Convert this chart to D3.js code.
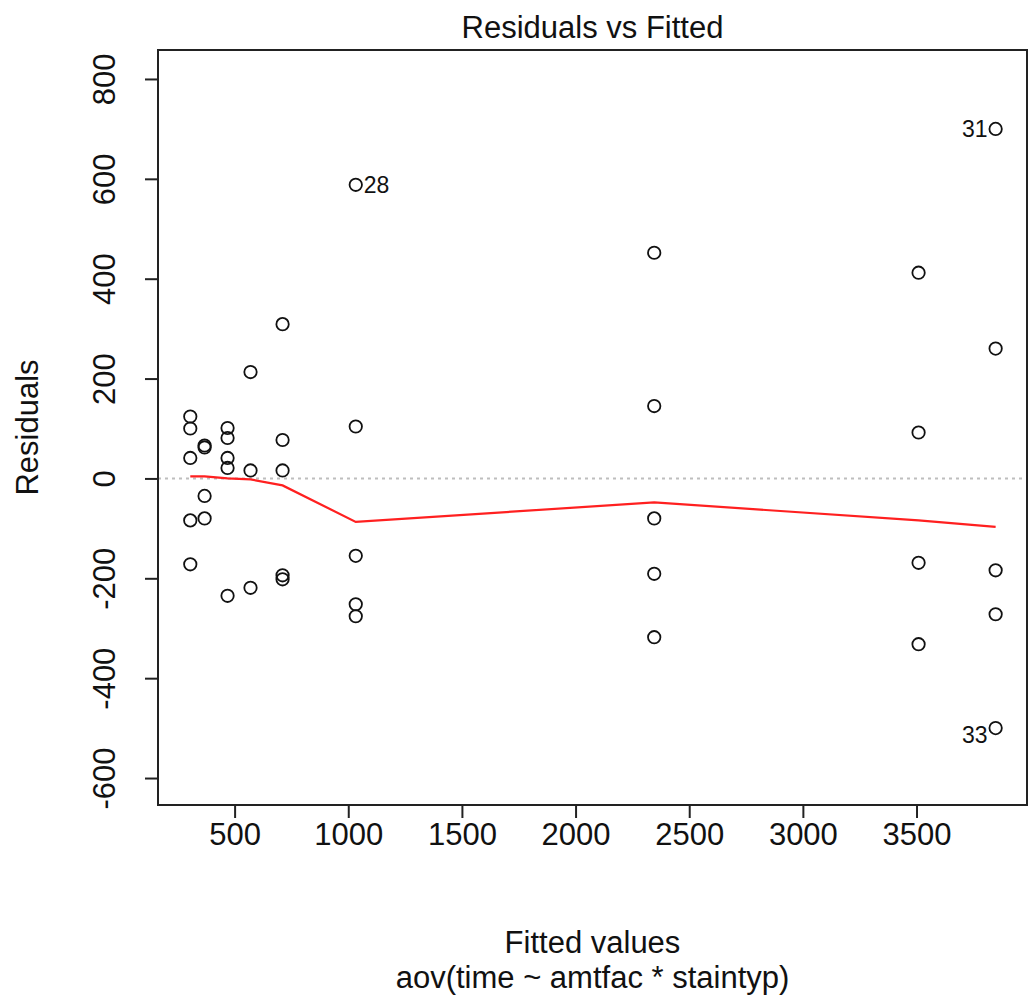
<!DOCTYPE html>
<html>
<head>
<meta charset="utf-8">
<script src="https://cdn.jsdelivr.net/npm/d3@7"></script>
<style>
  body { margin: 0; background: #fff; }
  svg { display: block; font-family: "Liberation Sans", Arial, sans-serif; }
</style>
</head>
<body>
<div class="vis"></div>
<script>
// fitted value of each cell, and the residuals read for it
var fittedValues = [305, 368, 469, 570, 711, 1033, 2346, 3509, 3848];
var residualGroups = [
    [124, 100, 41, -84, -172],
    [66, 62, -35, -80],
    [101, 81, 41, 21, -235],
    [213, 16, -219],
    [309, 77, 16, -194, -202],
    [588, 104, -155, -252, -276],
    [452, 145, -80, -191, -318],
    [412, 92, -169, -332],
    [700, 260, -184, -272, -500]
];
// red smoother, one vertex per fitted value
var smoothResiduals = [4, 4, 0, -2, -14, -87, -48, -84, -97];
// labelled observations: id, group index, residual
var labelIds = ["28", "31", "33"];
var labelGroups = [5, 8, 8];
var labelResiduals = [588, 700, -500];

var xTicks = [500, 1000, 1500, 2000, 2500, 3000, 3500];
var yTicks = [-600, -400, -200, 0, 200, 400, 600, 800];
var xDomain = [163, 3986];
var yDomain = [-654, 858];

(function () {
    const svgWidth = 1029;
    const svgHeight = 999;
    const fontSize = '31px';

    var margin = { top: 50, right: 2, bottom: 194, left: 158 };
    var innerWidth = svgWidth - margin.left - margin.right;
    var innerHeight = svgHeight - margin.top - margin.bottom;

    const svg = d3.select('.vis')
        .append('svg')
            .attr('width', svgWidth)
            .attr('height', svgHeight);

    svg.append('rect')
        .attr('width', svgWidth)
        .attr('height', svgHeight)
        .attr('fill', '#fff');

    const graph = svg.append('g')
        .attr('transform', `translate(${margin.left}, ${margin.top})`);

    var xScale = d3.scaleLinear().domain(xDomain).range([0, innerWidth]);
    var yScale = d3.scaleLinear().domain(yDomain).range([innerHeight, 0]);

    // R prints a plain hyphen for negatives
    var plain = function (d) { return String(d); };

    // flatten the groups into points
    var points = [];
    residualGroups.forEach(function (group, i) {
        group.forEach(function (r) {
            points.push({ fitted: fittedValues[i], resid: r });
        });
    });

    // x axis
    var xAxis = d3.axisBottom(xScale)
        .tickValues(xTicks)
        .tickFormat(plain)
        .tickSize(13)
        .tickSizeOuter(0)
        .tickPadding(5);
    var callxAxis = graph.append('g')
        .attr('transform', `translate(0, ${innerHeight})`)
        .call(xAxis);
    callxAxis.select('.domain').remove();
    callxAxis.selectAll('line').attr('stroke', '#222').attr('stroke-width', 2);
    callxAxis.selectAll('text')
        .attr('fill', '#111')
        .style('font-size', fontSize)
        .style('font-family', '"Liberation Sans", Arial, sans-serif');

    // y axis, labels parallel to the axis
    var yAxis = d3.axisLeft(yScale)
        .tickValues(yTicks)
        .tickFormat(plain)
        .tickSize(13)
        .tickSizeOuter(0);
    var callyAxis = graph.append('g').call(yAxis);
    callyAxis.select('.domain').remove();
    callyAxis.selectAll('line').attr('stroke', '#222').attr('stroke-width', 2);
    callyAxis.selectAll('text')
        .attr('x', 0)
        .attr('dy', 0)
        .attr('text-anchor', 'middle')
        .attr('transform', 'translate(-43, 0) rotate(-90)')
        .attr('fill', '#111')
        .style('font-size', fontSize)
        .style('font-family', '"Liberation Sans", Arial, sans-serif');

    // zero reference line
    graph.append('line')
        .attr('x1', 0)
        .attr('x2', innerWidth)
        .attr('y1', yScale(0))
        .attr('y2', yScale(0))
        .attr('stroke', '#bebebe')
        .attr('stroke-width', 2)
        .attr('stroke-dasharray', '3,4');

    // smoother
    var line = d3.line()
        .x(function (d, i) { return xScale(fittedValues[i]); })
        .y(function (d) { return yScale(d); });
    graph.append('path')
        .datum(smoothResiduals)
        .attr('d', line)
        .attr('fill', 'none')
        .attr('stroke', '#ff2020')
        .attr('stroke-width', 2.2);

    // points
    graph.append('g')
        .selectAll('circle')
        .data(points)
        .enter().append('circle')
            .attr('cx', function (d) { return xScale(d.fitted); })
            .attr('cy', function (d) { return yScale(d.resid); })
            .attr('r', 6.2)
            .attr('fill', 'none')
            .attr('stroke', '#111')
            .attr('stroke-width', 1.8);

    // id labels: left of the point on the right half, right of it otherwise
    var midX = (fittedValues[0] + fittedValues[fittedValues.length - 1]) / 2;
    graph.append('g')
        .selectAll('text')
        .data(labelIds)
        .enter().append('text')
            .attr('x', function (d, i) {
                var fx = fittedValues[labelGroups[i]];
                return xScale(fx) + (fx > midX ? -8 : 8);
            })
            .attr('y', function (d, i) {
                var r = labelResiduals[i];
                return yScale(r) + (r < 0 ? 7 : 0);
            })
            .attr('dy', '0.36em')
            .attr('text-anchor', function (d, i) {
                return fittedValues[labelGroups[i]] > midX ? 'end' : 'start';
            })
            .attr('fill', '#111')
            .style('font-size', '23px')
            .text(function (d) { return d; });

    // box
    graph.append('rect')
        .attr('width', innerWidth)
        .attr('height', innerHeight)
        .attr('fill', 'none')
        .attr('stroke', '#222')
        .attr('stroke-width', 2);

    // titles
    svg.append('text')
        .attr('x', margin.left + innerWidth / 2)
        .attr('y', 38)
        .attr('text-anchor', 'middle')
        .attr('fill', '#111')
        .style('font-size', fontSize)
        .text('Residuals vs Fitted');

    svg.append('text')
        .attr('x', margin.left + innerWidth / 2)
        .attr('y', 953)
        .attr('text-anchor', 'middle')
        .attr('fill', '#111')
        .style('font-size', fontSize)
        .text('Fitted values');

    svg.append('text')
        .attr('x', margin.left + innerWidth / 2)
        .attr('y', 988)
        .attr('text-anchor', 'middle')
        .attr('fill', '#111')
        .style('font-size', fontSize)
        .text('aov(time ~ amtfac * staintyp)');

    svg.append('text')
        .attr('transform', `translate(38, ${margin.top + innerHeight / 2}) rotate(-90)`)
        .attr('text-anchor', 'middle')
        .attr('fill', '#111')
        .style('font-size', fontSize)
        .text('Residuals');

}(d3));
</script>
</body>
</html>
